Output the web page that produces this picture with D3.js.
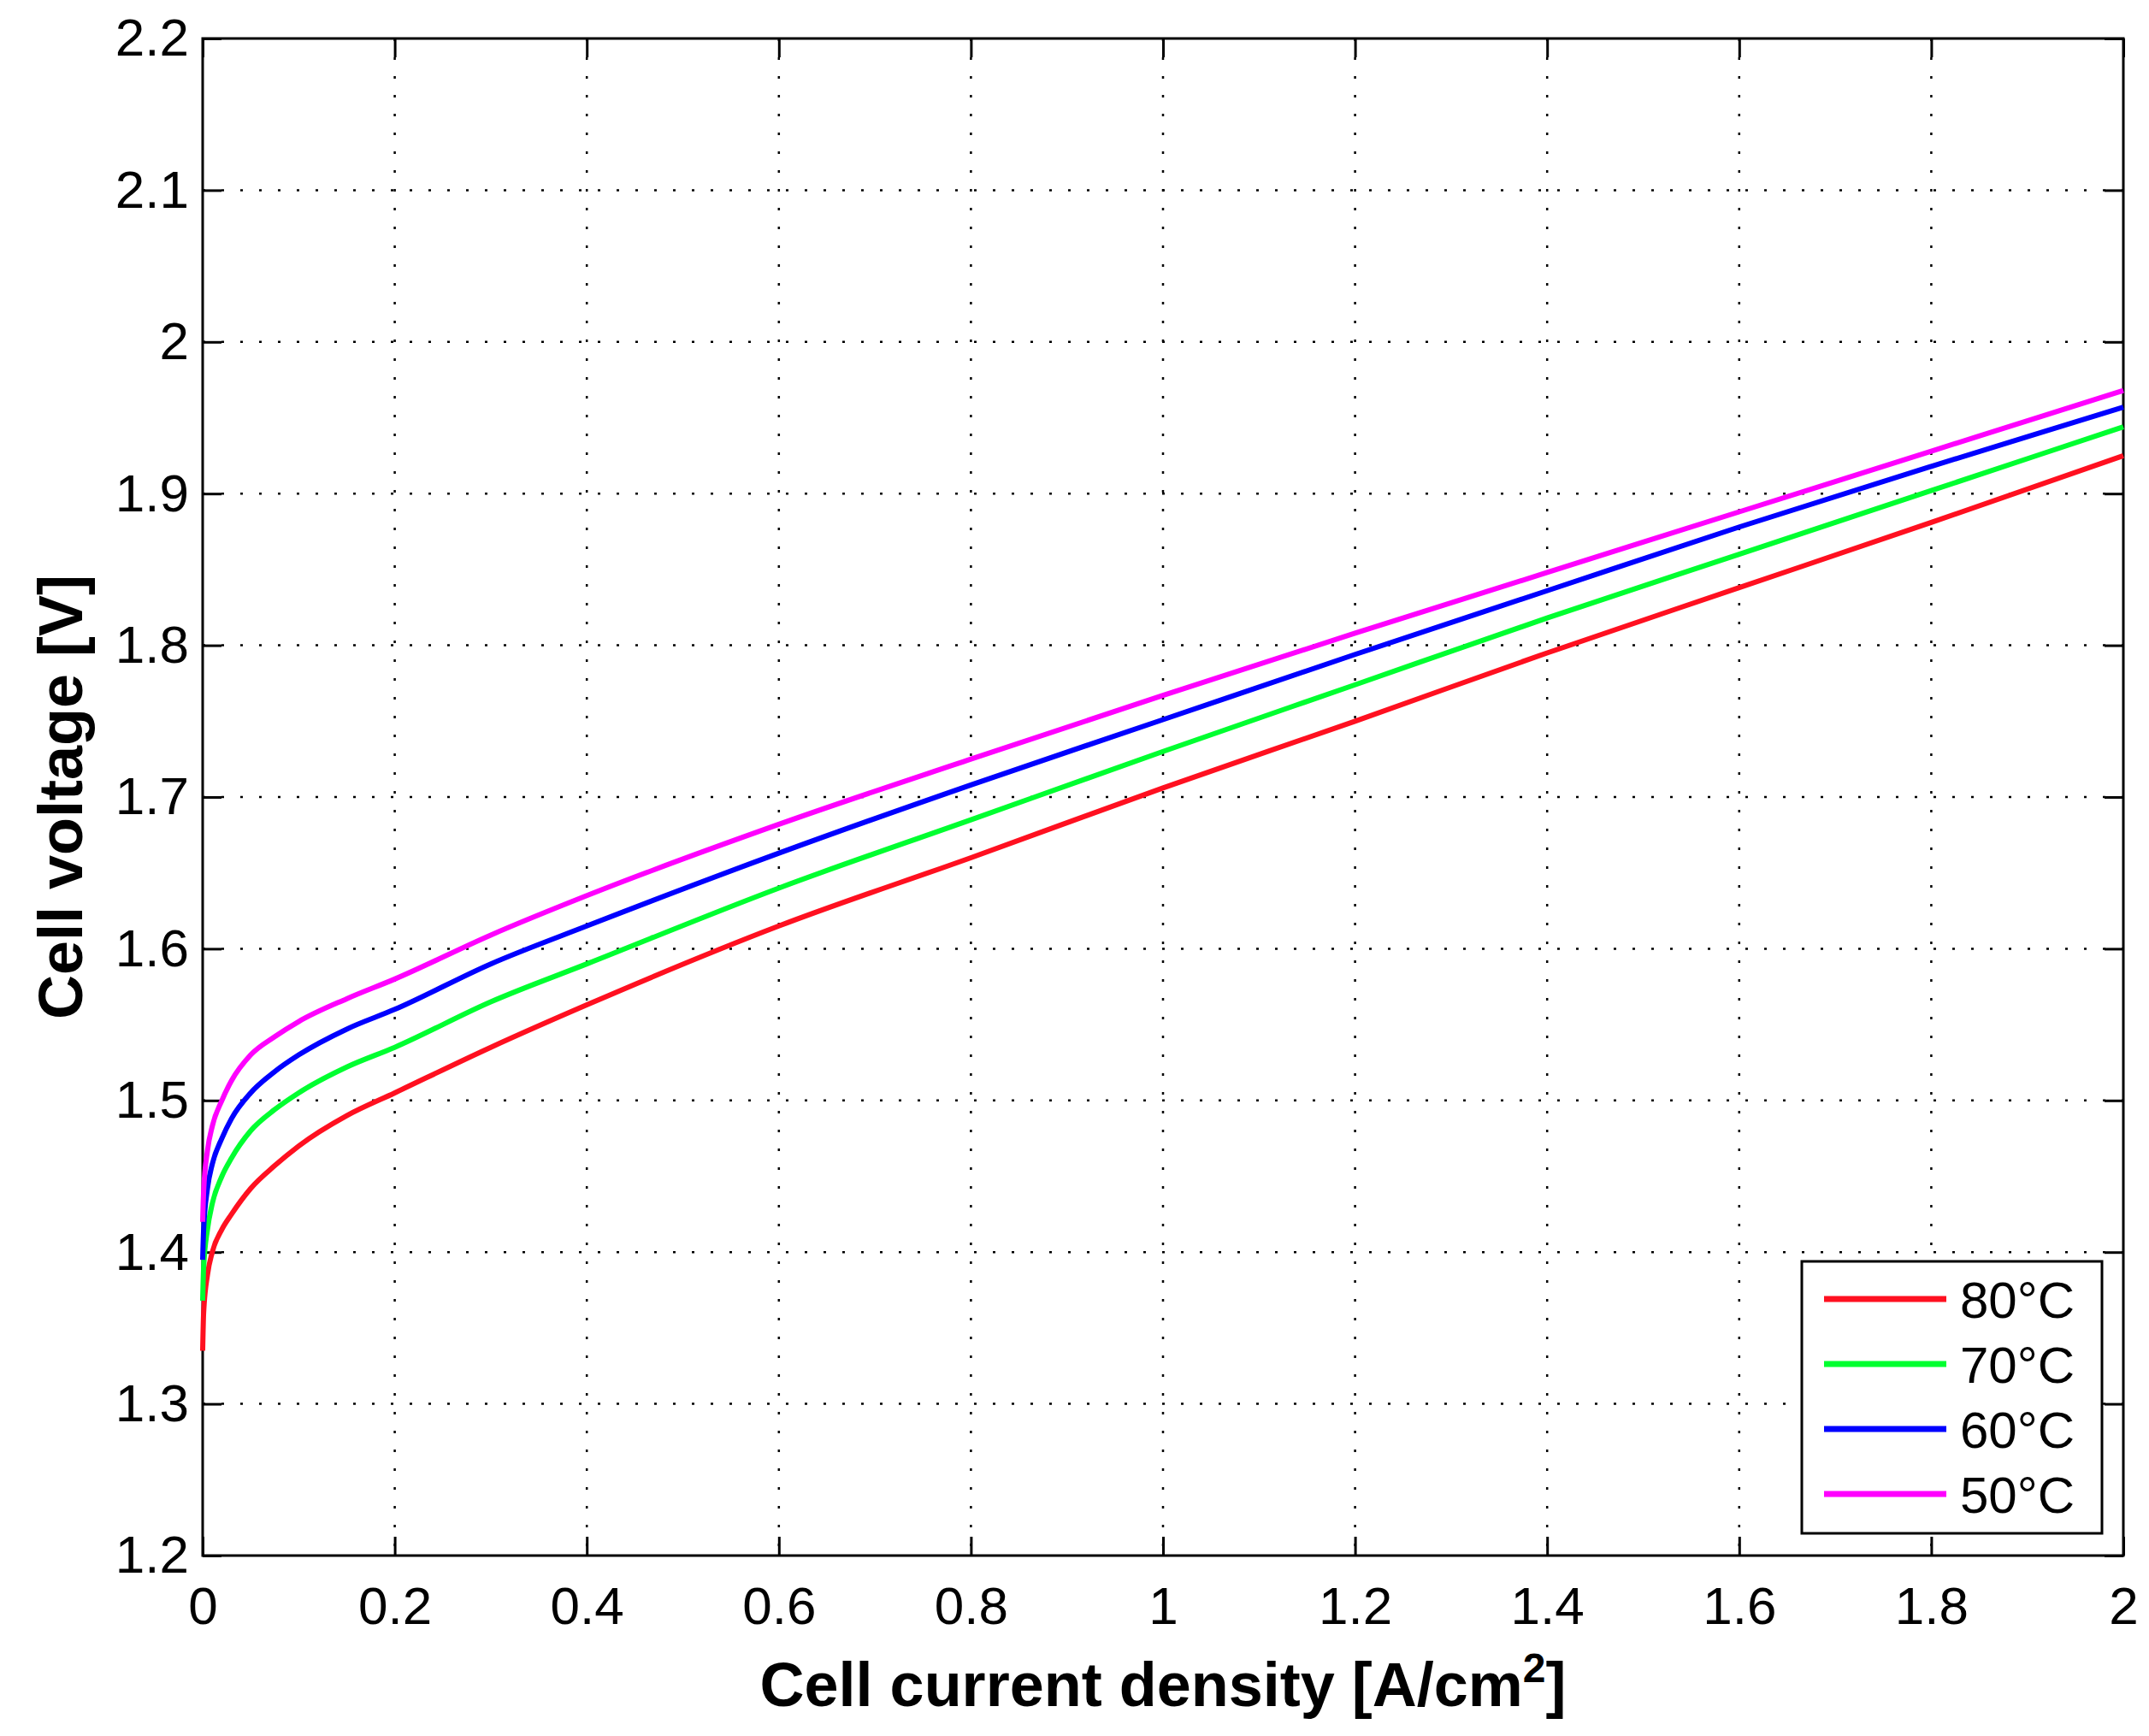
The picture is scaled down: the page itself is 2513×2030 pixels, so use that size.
<!DOCTYPE html>
<html><head><meta charset="utf-8">
<script src="https://cdn.jsdelivr.net/npm/d3@7"></script>
<style>body{margin:0;background:#fff}</style></head>
<body><svg id="c" width="2513" height="2030"></svg>
<script>
const xVals = [0, 0.001, 0.005, 0.01, 0.02, 0.03, 0.05, 0.075, 0.1, 0.15, 0.2, 0.3, 0.4, 0.6, 0.8, 1.0, 1.2, 1.4, 1.6, 1.8, 2.0];
const v80 = [1.335, 1.36, 1.385, 1.400, 1.415, 1.425, 1.442, 1.457, 1.470, 1.490, 1.505, 1.535, 1.563, 1.615, 1.660, 1.706, 1.750, 1.795, 1.838, 1.881, 1.925];
const v70 = [1.368, 1.39, 1.415, 1.432, 1.450, 1.462, 1.480, 1.494, 1.505, 1.522, 1.535, 1.565, 1.590, 1.640, 1.685, 1.730, 1.774, 1.818, 1.860, 1.902, 1.944];
const v60 = [1.395, 1.415, 1.442, 1.458, 1.475, 1.488, 1.505, 1.519, 1.530, 1.547, 1.560, 1.590, 1.615, 1.663, 1.708, 1.751, 1.794, 1.836, 1.878, 1.918, 1.957];
const v50 = [1.420, 1.44, 1.467, 1.483, 1.500, 1.513, 1.530, 1.542, 1.552, 1.567, 1.580, 1.609, 1.635, 1.682, 1.725, 1.767, 1.808, 1.848, 1.888, 1.928, 1.968];
const seriesNames = ["80°C", "70°C", "60°C", "50°C"];
const seriesColors = ["#ff1020", "#00ff30", "#0000ff", "#ff00ff"];
const xTicks = [0,0.2,0.4,0.6,0.8,1,1.2,1.4,1.6,1.8,2];
const yTicks = [1.2,1.3,1.4,1.5,1.6,1.7,1.8,1.9,2,2.1,2.2];

const series = [v80, v70, v60, v50];
const L=237,R=2483,T=45,B=1819;
const svg=d3.select("#c");
const x=d3.scaleLinear().domain([0,2]).range([L,R]);
const y=d3.scaleLinear().domain([1.2,2.2]).range([B,T]);
const font="Arial, 'Liberation Sans', sans-serif";
const g=svg.append("g");
g.selectAll(".vg").data(xTicks.slice(1,-1)).join("line").attr("x1",d=>x(d)).attr("x2",d=>x(d)).attr("y1",T).attr("y2",B)
 .attr("stroke","#000").attr("stroke-width",2.5).attr("stroke-dasharray","3,19");
g.selectAll(".hg").data(yTicks.slice(1,-1)).join("line").attr("y1",d=>y(d)).attr("y2",d=>y(d)).attr("x1",L).attr("x2",R)
 .attr("stroke","#000").attr("stroke-width",2.5).attr("stroke-dasharray","3,19");
const xa=svg.append("g").attr("transform",`translate(0,${B})`).call(d3.axisBottom(x).tickValues(xTicks).tickFormat(d3.format("~g")).tickSizeInner(-22).tickSizeOuter(0).tickPadding(36));
const xt=svg.append("g").attr("transform",`translate(0,${T})`).call(d3.axisTop(x).tickValues(xTicks).tickFormat("").tickSizeInner(-22).tickSizeOuter(0));
const ya=svg.append("g").attr("transform",`translate(${L},0)`).call(d3.axisLeft(y).tickValues(yTicks).tickFormat(d3.format("~g")).tickSizeInner(-22).tickSizeOuter(0).tickPadding(16));
const yr=svg.append("g").attr("transform",`translate(${R},0)`).call(d3.axisRight(y).tickValues(yTicks).tickFormat("").tickSizeInner(-22).tickSizeOuter(0));
[xa,xt,ya,yr].forEach(a=>{a.selectAll("path,line").attr("stroke","#000").attr("stroke-width",3);a.selectAll("text").attr("font-family",font).attr("font-size",62).attr("fill","#000");a.select(".domain").remove();});
svg.append("rect").attr("x",L).attr("y",T).attr("width",R-L).attr("height",B-T).attr("fill","none").attr("stroke","#000").attr("stroke-width",3);
const line=d3.line().x((d,i)=>x(xVals[i])).y(d=>y(d)).curve(d3.curveMonotoneX);
series.forEach((s,i)=>svg.append("path").attr("d",line(s)).attr("fill","none").attr("stroke",seriesColors[i]).attr("stroke-width",6));
const xl=svg.append("text").attr("x",(L+R)/2).attr("y",1995).attr("text-anchor","middle").attr("font-family",font).attr("font-weight","bold").attr("font-size",72);
xl.append("tspan").text("Cell current density [A/cm");
xl.append("tspan").attr("dy",-28).attr("font-size",48).text("2");
xl.append("tspan").attr("dy",28).text("]");
svg.append("text").attr("transform",`translate(96,${(T+B)/2}) rotate(-90)`).attr("text-anchor","middle").attr("font-family",font).attr("font-weight","bold").attr("font-size",72).text("Cell voltage [V]");
const lg=svg.append("g");
lg.append("rect").attr("x",2107).attr("y",1475).attr("width",351).attr("height",318).attr("fill","#fff").attr("stroke","#000").attr("stroke-width",3);
seriesNames.forEach((n,i)=>{const yy=1519+i*76;
 lg.append("line").attr("x1",2133).attr("x2",2276).attr("y1",yy).attr("y2",yy).attr("stroke",seriesColors[i]).attr("stroke-width",7);
 lg.append("text").attr("x",2292).attr("y",yy+22).attr("font-family",font).attr("font-size",60).text(n);});
</script></body></html>
